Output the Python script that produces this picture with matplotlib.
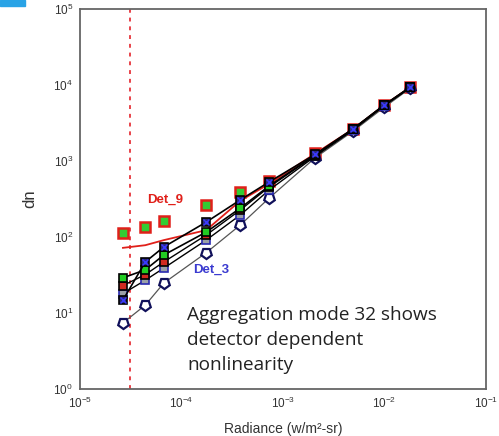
import matplotlib

matplotlib.use("Agg")
import matplotlib.pyplot as plt
from matplotlib.patches import Rectangle

plt.rcParams["font.family"] = ["Liberation Sans", "DejaVu Sans"]
plt.rcParams["mathtext.fontset"] = "custom"
plt.rcParams["mathtext.rm"] = "Liberation Sans"
plt.rcParams["mathtext.it"] = "Liberation Sans"

# radiance levels (w/m^2-sr)
radiance = [2.65e-5, 4.4e-5, 6.7e-5, 1.75e-4, 3.8e-4, 7.3e-4,
            2.07e-3, 4.9e-3, 9.95e-3, 1.8e-2]
# dn per detector
det_9 = [113, 135, 162, 265, 390, 545, 1280, 2630, 5450, 9400]
det_9_fit = [72, 78, 91, 123, 300, 500, 1250, 2630, 5450, 9400]
det_3 = [7.4, 12.7, 24.8, 62, 144, 325, 1100, 2470, 5100, 9100]
det_a = [29, 37, 58, 116, 240, 470, 1200, 2630, 5450, 9400]
det_b = [14.8, 47, 74, 157, 308, 530, 1220, 2650, 5450, 9400]
det_c = [23, 32, 47, 106, 227, 455, 1180, 2600, 5400, 9300]
det_d = [18, 27, 39, 91, 195, 415, 1150, 2550, 5350, 9300]
dark_limit = 3.1e-5

fig = plt.figure(figsize=(4.99, 4.36), dpi=100)
ax = fig.add_axes([80 / 499, 1 - 389 / 436, 406 / 499, 380 / 436])
fig.patches.append(Rectangle((0, 1 - 6 / 436), 25 / 499, 6 / 436,
                             transform=fig.transFigure, color="#29a3e6"))

ax.axvline(dark_limit, color="#e8434a", ls=(0, (2, 2.5)), lw=1.4, zorder=1)

# Det_9 (drawn under the cluster)
ax.plot(radiance, det_9, ls="none", marker="s", ms=7, mfc="#33cc33",
        mec="#e0201a", mew=1.8, zorder=2)
ax.plot(radiance, det_9_fit, color="#e0201a", lw=1.3, zorder=2.5)

# Det_3
ax.plot(radiance, det_3, color="#555555", lw=0.9, marker=(5, 0, 180),
        ms=8, mfc="white", mec="#10105a", mew=1.6, zorder=3)

# cluster of detectors, black fit lines
ax.plot(radiance, det_d, color="black", lw=1.0, marker="s", ms=5.5,
        mfc="#9aa0a8", mec="#2a2ab0", mew=1.2, zorder=3.2)
ax.plot(radiance, det_c, color="black", lw=1.0, marker="s", ms=5.5,
        mfc="#d02a20", mec="black", mew=1.2, zorder=3.4)
ax.plot(radiance, det_a, color="black", lw=1.2, marker="s", ms=5.5,
        mfc="#22cc22", mec="black", mew=1.2, zorder=3.6)
ax.plot(radiance, det_b, color="black", lw=1.2, marker="s", ms=5.5,
        mfc="#2a2a80", mec="black", mew=1.2, zorder=3.8)
ax.plot(radiance, det_b, ls="none", marker="x", ms=4, mec="#3a3aff",
        mew=1.0, zorder=3.9)

ax.text(1.035e-4, 308, "Det_9", color="#e0201a", fontsize=9.5,
        fontweight="bold", ha="right", va="center")
ax.text(1.3e-4, 36.8, "Det_3", color="#3a3ad0", fontsize=9.5,
        fontweight="bold", ha="left", va="center")
ax.text(1.13e-4, 12.3, "Aggregation mode 32 shows\ndetector dependent\nnonlinearity",
        fontsize=13.7, family=["Open Sans", "DejaVu Sans"], color="#222222",
        linespacing=1.5, ha="left", va="top")

ax.set_xscale("log")
ax.set_yscale("log")
ax.set_xlim(1e-5, 1e-1)
ax.set_ylim(1, 1e5)
ax.set_xticks([1e-5, 1e-4, 1e-3, 1e-2, 1e-1])
ax.set_yticks([1e0, 1e1, 1e2, 1e3, 1e4, 1e5])
ax.minorticks_off()
ax.tick_params(length=0, labelsize=8.5, labelcolor="#333333", pad=5)
for s in ax.spines.values():
    s.set_color("#666666")
    s.set_linewidth(1.3)
ax.set_xlabel("Radiance (w/m²-sr)", fontsize=10, color="#333333", labelpad=8)
ax.set_ylabel("dn", fontsize=12, color="#333333", labelpad=12)

fig.savefig("out.png", dpi=100)
